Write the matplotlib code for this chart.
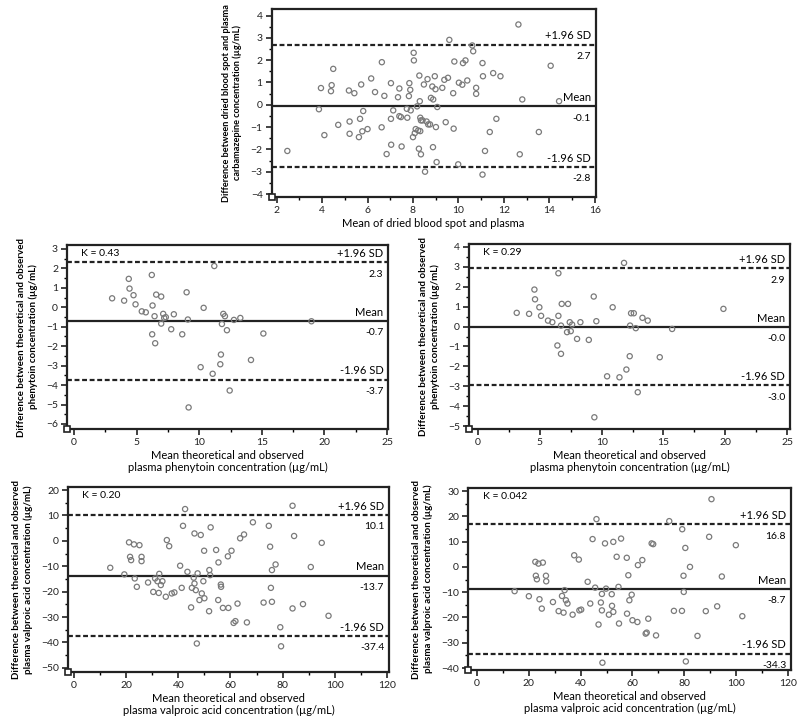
import numpy as np
import matplotlib
matplotlib.use("Agg")
import matplotlib.pyplot as plt
from matplotlib.ticker import MultipleLocator

plt.rcParams['font.family'] = ['Lato', 'DejaVu Sans']

# carbamazepine: dried blood spot vs plasma
cbz_mean = [2.47, 3.86, 3.95, 4.1, 4.39, 4.42, 4.49, 4.71, 5.18, 5.21, 5.21, 5.42, 5.62, 5.67,
            5.72, 5.77, 5.81, 6.0, 6.16, 6.33, 6.62, 6.63, 6.74, 6.84, 7.03, 7.03, 7.04, 7.13,
            7.34, 7.4, 7.4, 7.47, 7.5, 7.75, 7.73, 7.84, 7.82, 7.88, 7.9, 8.0, 8.03, 8.04, 8.08,
            8.12, 8.18, 8.23, 8.26, 8.28, 8.3, 8.32, 8.32, 8.35, 8.35, 8.42, 8.48, 8.53, 8.6,
            8.64, 8.67, 8.75, 8.79, 8.85, 8.88, 8.89, 8.96, 8.99, 9.01, 9.04, 9.07, 9.29, 9.38,
            9.44, 9.54, 9.6, 9.77, 9.79, 9.82, 9.99, 10.02, 10.17, 10.2, 10.31, 10.39, 10.61,
            10.65, 10.78, 10.78, 11.06, 11.06, 11.08, 11.17, 11.38, 11.53, 11.67, 11.85, 12.64,
            12.7, 12.81, 13.54, 14.06, 14.43]
cbz_diff = [-2.07, -0.2, 0.75, -1.36, 0.61, 0.88, 1.61, -0.9, 0.64, -0.75, -1.3, 0.52, -1.45, -0.63,
            0.91, -1.19, -0.28, -1.09, 1.18, 0.57, -1.01, 1.91, 0.4, -2.21, 0.97, -0.63, -1.79, -0.25,
            0.34, -0.51, 0.73, -0.55, -1.87, -0.58, -0.18, 0.97, 0.39, 0.67, -0.25, -1.45, 2.33, 1.99, -1.27,
            -1.09, -0.07, -1.15, -1.97, 1.31, 0.16, -0.58, -1.18, -0.7, -2.22, -0.7, 0.91, -3.0, -0.75,
            1.15, -0.88, -0.88, 0.31, 0.82, -1.9, 0.24, 1.28, 0.7, -1.0, -2.57, -0.1, 0.76, 1.12,
            -0.78, 1.21, 2.91, 0.52, -1.07, 1.94, -2.67, 0.99, 0.9, 1.87, 1.99, 1.09, 2.66,
            2.4, 0.76, 0.49, -3.13, 1.87, 1.28, -2.07, -1.22, 1.42, -0.63, 1.28, 3.6,
            -2.22, 0.24, -1.22, 1.75, 0.16]

# phenytoin, model 1 (K = 0.43)
pht1_mean = [3.04, 4.0, 4.37, 4.43, 4.75, 4.91, 5.41, 5.73, 6.21, 6.27, 6.24, 6.43, 6.48, 6.56,
             6.96, 6.96, 7.12, 7.2, 7.33, 7.76, 7.97, 8.64, 8.99, 9.09, 9.15, 10.11, 10.35, 11.07,
             11.2, 11.68, 11.73, 11.81, 11.92, 12.05, 12.21, 12.43, 12.77, 13.28, 14.13, 15.12, 18.96]
pht1_diff = [0.46, 0.34, 1.46, 0.96, 0.62, 0.15, -0.21, -0.26, 1.66, 0.09, -1.39, -0.46, -1.85, 0.65,
             0.55, -0.84, -0.34, -0.55, -0.51, -1.13, -0.36, -1.39, 0.77, -0.63, -5.15, -3.08, -0.03, -3.42,
             2.12, -2.93, -2.43, -0.86, -0.34, -0.46, -1.18, -4.28, -0.65, -0.55, -2.71, -1.35, -0.72]

# phenytoin, model 2 (K = 0.29)
pht2_mean = [3.13, 4.13, 4.56, 4.61, 4.96, 5.1, 5.66, 6.01, 6.42, 6.5, 6.5, 6.71, 6.71, 6.77,
             7.28, 7.2, 7.42, 7.5, 7.61, 8.01, 8.28, 8.96, 9.36, 9.41, 9.57, 10.44, 10.89, 11.44,
             11.81, 12.0, 12.27, 12.3, 12.38, 12.6, 12.76, 12.92, 13.3, 13.73, 14.7, 15.7, 19.85]
pht2_diff = [0.69, 0.64, 1.86, 1.37, 0.97, 0.54, 0.3, 0.22, -0.95, 2.68, 0.54, 0.05, -1.37, 1.14,
             1.14, -0.28, 0.22, -0.23, 0.1, -0.62, 0.22, -0.67, 1.51, -4.56, 0.27, -2.5, 0.97, -2.55,
             3.2, -2.16, -1.49, 0.05, 0.67, 0.67, -0.08, -3.3, 0.44, 0.3, -1.54, -0.12, 0.89]

# valproic acid, model 1 (K = 0.20)
vpa1_mean = [13.9, 19.3, 21.1, 21.5, 21.9, 23.0, 23.3, 24.1, 25.1, 25.9, 25.9, 28.4, 30.4, 31.1,
             32.0, 32.5, 32.7, 33.3, 33.9, 35.2, 35.6, 36.5, 37.5, 38.5, 40.7, 41.3, 41.8, 42.6,
             43.5, 44.9, 45.2, 45.9, 46.2, 46.2, 46.7, 47.1, 47.4, 48.1, 48.6, 49.0, 49.6, 49.9,
             50.0, 51.8, 51.9, 52.2, 52.4, 54.5, 55.3, 55.4, 56.3, 56.4, 57.1, 59.2, 59.0, 60.4,
             61.2, 61.9, 62.7, 63.7, 65.2, 66.3, 68.6, 72.7, 74.7, 75.2, 75.5, 75.9, 75.9, 77.3,
             79.1, 79.4, 83.8, 83.8, 84.4, 87.8, 90.8, 95.0, 97.6]
vpa1_diff = [-10.6, -13.2, -0.6, -6.3, -7.6, -1.4, -14.8, -18.1, -1.7, -6.3, -8.0, -16.4, -20.1, -14.8,
             -15.9, -20.5, -13.0, -17.4, -15.9, -22.0, 0.3, -2.1, -20.7, -20.3, -9.8, -18.5, 5.9, 12.5,
             -12.2, -26.2, -18.5, -14.5, 2.9, -16.8, -19.4, -40.4, -12.8, -23.3, 2.3, -20.7, -15.9, -3.9,
             -22.6, -27.7, -11.5, -13.5, 5.3, -3.6, -23.3, -8.5, -17.2, -18.1, -26.4, -26.4, -6.1, -3.9,
             -32.3, -31.6, -24.7, 1.0, 2.5, -32.1, 7.3, -24.3, 5.9, -2.3, -18.5, -11.5, -24.0, -9.3,
             -34.0, -41.5, 13.8, -26.6, 1.9, -24.9, -10.3, -0.8, -29.5]

# valproic acid, model 2 (K = 0.042)
vpa2_mean = [14.5, 20.0, 22.5, 22.7, 23.1, 23.7, 24.1, 25.0, 25.4, 26.6, 26.7, 29.3, 31.5, 32.8,
             33.4, 33.8, 34.3, 34.9, 36.9, 37.5, 39.3, 39.5, 40.2, 42.7, 43.7, 44.6, 45.6, 46.1,
             46.9, 47.8, 48.2, 48.2, 48.4, 49.4, 49.8, 50.9, 52.0, 52.1, 52.6, 52.6, 53.9, 54.6,
             54.8, 55.6, 57.8, 57.9, 58.4, 58.8, 59.7, 60.0, 61.9, 62.1, 63.8, 65.1, 65.5, 66.1,
             67.4, 68.0, 69.1, 74.2, 76.0, 79.1, 79.2, 79.7, 79.8, 80.4, 80.6, 82.2, 85.1, 88.3,
             89.6, 90.5, 92.7, 94.5, 99.9, 102.4]
vpa2_diff = [-9.6, -11.6, 2.0, -3.5, -4.9, 1.3, -12.8, -16.5, 1.7, -3.5, -5.7, -13.9, -17.5, -11.5,
             -18.1, -9.2, -13.2, -14.5, -18.9, 4.6, 2.9, -17.2, -16.9, -5.9, -14.5, 11.0, -8.2, 18.9,
             -22.8, -14.1, -10.7, -17.2, -37.9, 9.3, -8.6, -18.9, -10.8, -15.4, 9.9, -17.8, 4.0, -7.9,
             -22.4, 11.2, 3.6, -18.5, -3.3, -13.2, -11.0, -21.1, -21.8, 0.7, 2.7, -26.4, -26.0, -20.5,
             9.3, 9.0, -27.1, 18.1, -17.4, -17.4, 14.9, -3.5, -9.9, 7.5, -37.4, 0.0, -27.3, -17.5,
             11.9, 26.8, -15.6, -3.8, 8.6, -19.5]

# limits of agreement: +1.96 SD, mean, -1.96 SD (and printed labels)
cbz_loa = [2.7, -0.07, -2.79]
pht1_loa = [2.31, -0.7, -3.72]
pht2_loa = [2.93, -0.02, -2.96]
vpa1_loa = [10.1, -13.7, -37.4]
vpa2_loa = [16.8, -8.7, -34.3]
cbz_txt = ["2.7", "-0.1", "-2.8"]
pht1_txt = ["2.3", "-0.7", "-3.7"]
pht2_txt = ["2.9", "-0.0", "-3.0"]
vpa1_txt = ["10.1", "-13.7", "-37.4"]
vpa2_txt = ["16.8", "-8.7", "-34.3"]

ylab_cbz = "Difference between dried blood spot and plasma\ncarbamazepine concentration (µg/mL)"
ylab_pht = "Difference between theoretical and observed\nphenytoin concentration (µg/mL)"
ylab_vpa = "Difference between theoretical and observed\nplasma valproic acid concentration (µg/mL)"
xlab_cbz = "Mean of dried blood spot and plasma"
xlab_pht = "Mean theoretical and observed\nplasma phenytoin concentration (µg/mL)"
xlab_vpa = "Mean theoretical and observed\nplasma valproic acid concentration (µg/mL)"

fig = plt.figure(figsize=(7.99, 7.16), dpi=100)


def bland_altman(rect, x, y, loa, txt, xlim, ylim, xmaj, xmin, ymaj, ymin,
                 xlab, ylab, kval=None, ylpad=6, ylfs=7):
    ax = fig.add_axes(rect)
    ax.scatter(x, y, s=14, facecolors='none', edgecolors='#7a7a7a', linewidths=0.9, zorder=3)
    ax.axhline(loa[0], color='#222222', lw=1.6, ls=(0, (2.2, 1.2)))
    ax.axhline(loa[1], color='#222222', lw=1.6)
    ax.axhline(loa[2], color='#222222', lw=1.6, ls=(0, (2.2, 1.2)))
    ax.set_xlim(*xlim)
    ax.set_ylim(*ylim)
    ax.xaxis.set_major_locator(MultipleLocator(xmaj))
    ax.xaxis.set_minor_locator(MultipleLocator(xmin))
    ax.yaxis.set_major_locator(MultipleLocator(ymaj))
    ax.yaxis.set_minor_locator(MultipleLocator(ymin))
    ax.tick_params(which='major', direction='out', length=4, width=1.2, labelsize=7.5,
                   colors='#222222', pad=2.5)
    ax.tick_params(which='minor', direction='out', length=2.5, width=1.0)
    for sp in ax.spines.values():
        sp.set_linewidth(1.6)
        sp.set_color('#222222')
    span = ylim[1] - ylim[0]
    tr = ax.get_yaxis_transform()
    off = span * 0.018
    labels = [("+1.96 SD", txt[0]), ("Mean", txt[1]), ("-1.96 SD", txt[2])]
    for val, (top, bot) in zip(loa, labels):
        ax.text(0.985, val + off, top, transform=tr, ha='right', va='bottom', fontsize=8)
        ax.text(0.985, val - off * 2.2, bot, transform=tr, ha='right', va='top', fontsize=7.5)
    if kval:
        ax.text(0.045, 0.952, kval, transform=ax.transAxes, ha='left', va='center', fontsize=7.5)
    ax.plot([0], [0], marker='s', ms=5, mfc='white', mec='#222222', mew=1.2,
            transform=ax.transAxes, clip_on=False, zorder=5)
    ax.set_xlabel(xlab, fontsize=8, labelpad=2, linespacing=1.15)
    ax.set_ylabel(ylab, fontsize=ylfs, labelpad=ylpad, fontweight='bold', linespacing=1.25)
    return ax


bland_altman([0.340, 0.725, 0.4055, 0.2626], cbz_mean, cbz_diff, cbz_loa, cbz_txt,
             (1.78, 16.04), (-4.13, 4.3), 2, 1, 1, 0.5, xlab_cbz, ylab_cbz, ylfs=6.6)
bland_altman([0.0839, 0.4008, 0.4018, 0.257], pht1_mean, pht1_diff, pht1_loa, pht1_txt,
             (-0.56, 25.08), (-6.26, 3.2), 5, 2.5, 1, 0.5, xlab_pht, ylab_pht, "K = 0.43")
bland_altman([0.587, 0.4008, 0.4018, 0.2584], pht2_mean, pht2_diff, pht2_loa, pht2_txt,
             (-0.73, 25.24), (-5.15, 4.15), 5, 2.5, 1, 0.5, xlab_pht, ylab_pht, "K = 0.29")
bland_altman([0.0851, 0.0615, 0.4018, 0.2584], vpa1_mean, vpa1_diff, vpa1_loa, vpa1_txt,
             (-2.3, 120.8), (-51.6, 21.2), 20, 10, 10, 5, xlab_vpa, ylab_vpa, "K = 0.20")
bland_altman([0.5857, 0.0642, 0.4043, 0.2542], vpa2_mean, vpa2_diff, vpa2_loa, vpa2_txt,
             (-3.5, 121.2), (-40.8, 31.2), 20, 10, 10, 5, xlab_vpa, ylab_vpa, "K = 0.042")

fig.savefig("out.png", dpi=100, facecolor='white')
